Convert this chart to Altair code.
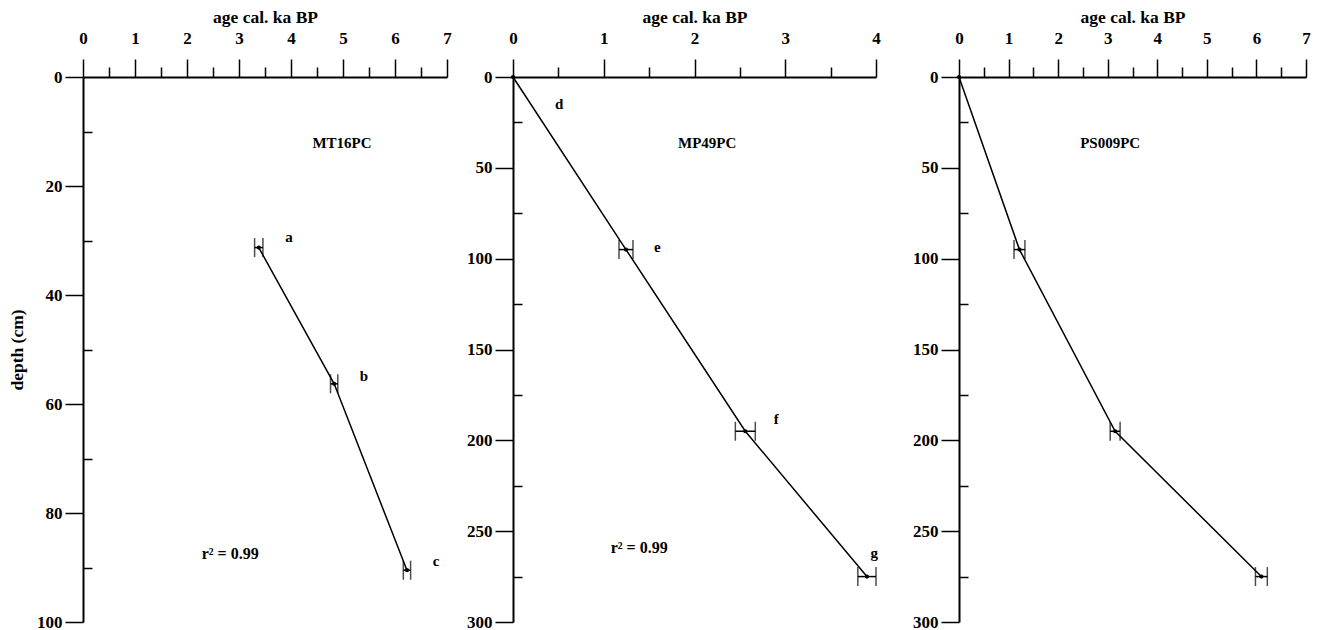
import altair as alt
import pandas as pd

# ---- data ----
mt_age = [3.38, 4.83, 6.23]
mt_depth = [31.3, 56.3, 90.5]
mt_err = [0.08, 0.07, 0.07]
mt_lab = ["a", "b", "c"]
mt_lab_x = [3.96, 5.40, 6.79]
mt_lab_y = [29.4, 54.8, 88.8]

mp_age = [0.0, 1.245, 2.56, 3.90]
mp_depth = [0, 95, 195, 275]
mp_err = [0.0, 0.077, 0.11, 0.10]
mp_lab = ["d", "e", "f", "g"]
mp_lab_x = [0.51, 1.59, 2.90, 3.98]
mp_lab_y = [14.8, 93.8, 188, 262]

ps_age = [0.0, 1.22, 3.15, 6.10]
ps_depth = [0, 95, 195, 275]
ps_err = [0.0, 0.11, 0.10, 0.12]

names = ["MT16PC", "MP49PC", "PS009PC"]
name_x = [4.98, 2.14, 3.05]
name_y = [12.1, 36.2, 36.2]
r2_text = "r\u00b2 = 0.99"
r2_x = [2.83, 1.39]
r2_y = [87.6, 259.5]

x_max = [7, 4, 7]
y_max = [100, 300, 300]
y_minor = [10, 25, 25]
y_major = [20, 50, 50]
widths = [364, 363, 347]
H = 545
FONT = "Liberation Serif"


def panel(i, age, depth, err, labs, lab_x, lab_y, r2=None, ytitle=None):
    df = pd.DataFrame({"age": age, "depth": depth, "err": err})
    df["lo"] = df["age"] - df["err"]
    df["hi"] = df["age"] + df["err"]
    xs = alt.Scale(domain=[0, x_max[i]], nice=False, zero=False)
    ys = alt.Scale(domain=[0, y_max[i]], nice=False, reverse=True)
    x_major_vals = list(range(0, x_max[i] + 1))
    x_minor_vals = [k + 0.5 for k in range(0, x_max[i])]
    y_major_vals = list(range(0, y_max[i] + 1, y_major[i]))
    y_minor_vals = [v for v in range(0, y_max[i] + 1, y_minor[i]) if v % y_major[i] != 0]
    xaxis = alt.Axis(
        orient="top", values=x_major_vals, title="age cal. ka BP", format="d",
        tickSize=18, labelPadding=12, titlePadding=3, labelFlush=False,
    )
    yaxis = alt.Axis(
        values=y_major_vals, title=ytitle, format="d",
        tickSize=18, labelPadding=3, titlePadding=10, labelFlush=False,
    )
    xaxis_minor = alt.Axis(
        orient="top", values=x_minor_vals, title=None, labels=False, domain=False,
        tickSize=10,
    )
    yaxis_minor = alt.Axis(
        orient="right", offset=-widths[i], values=y_minor_vals, title=None,
        labels=False, domain=False, tickSize=9,
    )
    base = alt.Chart(df)
    line = base.mark_line(color="black", strokeWidth=1.5).encode(
        x=alt.X("age:Q", scale=xs, axis=xaxis),
        y=alt.Y("depth:Q", scale=ys, axis=yaxis),
        order="depth:Q",
    )
    ghost = base.mark_point(opacity=0).encode(
        x=alt.X("age:Q", scale=xs, axis=xaxis_minor),
        y=alt.Y("depth:Q", scale=ys, axis=yaxis_minor),
    )
    pts = base.mark_circle(color="black", size=18, opacity=1).encode(x="age:Q", y="depth:Q")
    ebase = base.transform_filter("datum.err > 0")
    bar = ebase.mark_rule(color="black", strokeWidth=1.5).encode(x="lo:Q", x2="hi:Q", y="depth:Q")
    cap_lo = ebase.mark_tick(color="black", orient="vertical", size=19, thickness=1.5).encode(x="lo:Q", y="depth:Q")
    cap_hi = ebase.mark_tick(color="black", orient="vertical", size=19, thickness=1.5).encode(x="hi:Q", y="depth:Q")
    mains = [line, bar, cap_lo, cap_hi, pts]
    txt = dict(font=FONT, fontWeight="bold", fontSize=15, color="black")
    if labs:
        ldf = pd.DataFrame({"x": lab_x, "y": lab_y, "t": labs})
        mains.append(alt.Chart(ldf).mark_text(**txt).encode(x="x:Q", y="y:Q", text="t:N"))
    ndf = pd.DataFrame({"x": [name_x[i]], "y": [name_y[i]], "t": [names[i]]})
    mains.append(alt.Chart(ndf).mark_text(**txt).encode(x="x:Q", y="y:Q", text="t:N"))
    if r2 is not None:
        rdf = pd.DataFrame({"x": [r2[0]], "y": [r2[1]], "t": [r2_text]})
        mains.append(alt.Chart(rdf).mark_text(font=FONT, fontWeight="bold", fontSize=16, color="black").encode(
            x="x:Q", y="y:Q", text="t:N"))
    main = alt.layer(*mains)
    return alt.layer(main, ghost).resolve_axis(x="independent", y="independent").properties(
        width=widths[i], height=H
    )


p1 = panel(0, mt_age, mt_depth, mt_err, mt_lab, mt_lab_x, mt_lab_y, r2=(r2_x[0], r2_y[0]), ytitle="depth (cm)")
p2 = panel(1, mp_age, mp_depth, mp_err, mp_lab, mp_lab_x, mp_lab_y, r2=(r2_x[1], r2_y[1]))
p3 = panel(2, ps_age, ps_depth, ps_err, None, None, None)

inner = alt.hconcat(p1, p2, spacing=14)
chart = alt.hconcat(inner, p3, spacing=31).properties(
    padding={"top": 0, "bottom": 0, "left": 0, "right": 0}
).configure_view(
    stroke=None
).configure_axis(
    labelFont=FONT, labelFontWeight="bold", labelFontSize=17, labelColor="black",
    titleFont=FONT, titleFontWeight="bold", titleFontSize=17.5, titleColor="black",
    domainColor="black", domainWidth=2, tickColor="black", tickWidth=1.5, grid=False,
)

chart.save("out.html", embed_options={"renderer": "svg", "actions": False})
